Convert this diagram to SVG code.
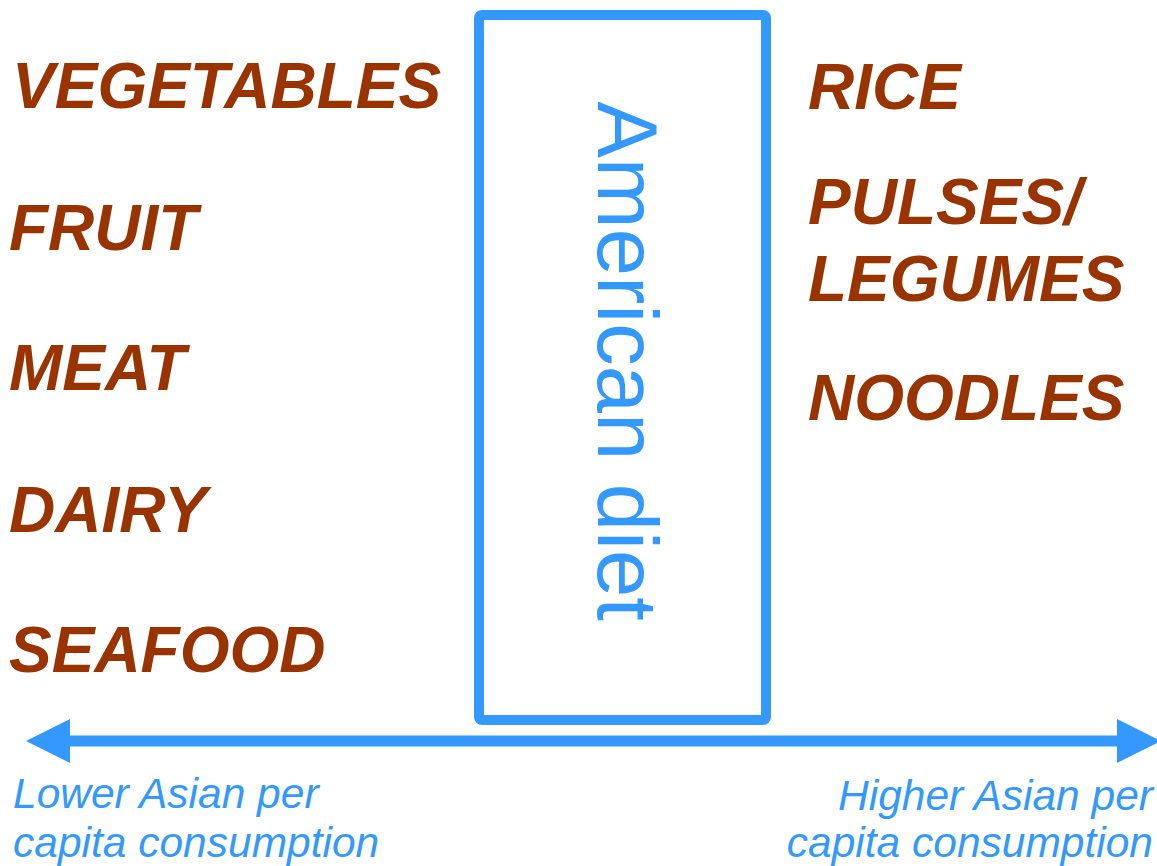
<svg xmlns="http://www.w3.org/2000/svg" width="1157" height="866" viewBox="0 0 1157 866">
  <style>
    .food { font-family: "Liberation Sans", Arial, sans-serif; font-weight: bold; font-style: italic; font-size: 64px; fill: #993300; }
    .axis-label { font-family: "Liberation Sans", Arial, sans-serif; font-style: italic; font-size: 42.5px; fill: #3399ff; }
    .diet { font-family: "Liberation Sans", Arial, sans-serif; font-size: 85px; fill: #3399ff; }
  </style>
  <defs>
    <marker id="head" viewBox="0 0 10 10" refX="0" refY="5" markerWidth="4" markerHeight="4" markerUnits="strokeWidth" orient="auto-start-reverse">
      <path d="M0,0 L10,5 L0,10 Z" fill="#3399ff"/>
    </marker>
  </defs>
  <rect width="1157" height="866" fill="#ffffff"/>

  <!-- foods with lower consumption -->
  <g id="low-foods">
    <text class="food" x="12" y="108">VEGETABLES</text>
    <text class="food" x="9" y="250">FRUIT</text>
    <text class="food" x="9" y="390">MEAT</text>
    <text class="food" x="9" y="532">DAIRY</text>
    <text class="food" x="9" y="672">SEAFOOD</text>
  </g>

  <!-- foods with higher consumption -->
  <g id="high-foods">
    <text class="food" x="808" y="109">RICE</text>
    <text class="food" x="808" y="224">PULSES/</text>
    <text class="food" x="808" y="301">LEGUMES</text>
    <text class="food" x="808" y="420">NOODLES</text>
  </g>

  <!-- central diet box -->
  <g id="american-diet">
    <rect x="479" y="15" width="287" height="705" rx="3" fill="none" stroke="#3399ff" stroke-width="10"/>
    <text class="diet" transform="translate(598,361) rotate(90)" text-anchor="middle">American diet</text>
  </g>

  <!-- consumption axis -->
  <g id="connectors">
    <line x1="70" y1="741" x2="1117" y2="741" stroke="#3399ff" stroke-width="11" marker-start="url(#head)" marker-end="url(#head)"/>
  </g>

  <g id="axis-labels">
    <text class="axis-label" x="13" y="808">Lower Asian per</text>
    <text class="axis-label" x="13" y="857">capita consumption</text>
    <text class="axis-label" x="1153" y="810" text-anchor="end">Higher Asian per</text>
    <text class="axis-label" x="1153" y="857" text-anchor="end">capita consumption</text>
  </g>
</svg>
